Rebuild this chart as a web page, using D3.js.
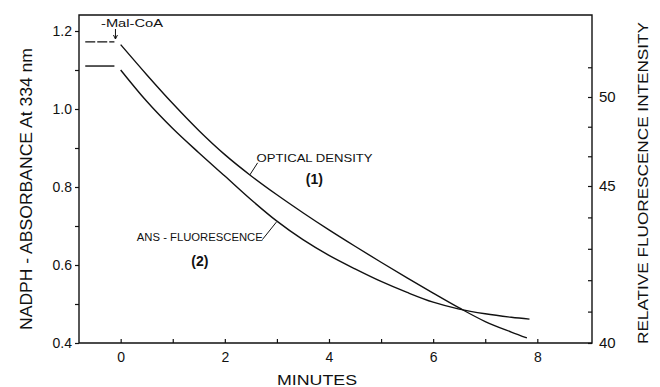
<!DOCTYPE html>
<html>
<head>
<meta charset="utf-8">
<script src="https://cdn.jsdelivr.net/npm/d3@7"></script>
<style>
  body { margin: 0; background: #fff; }
  svg { display: block; }
  text { font-family: "Liberation Sans", "DejaVu Sans", sans-serif; fill: #111; }
</style>
</head>
<body>
<svg id="chart" width="660" height="387"></svg>
<script>
// data
var minutes = [0, 0.5, 1, 1.5, 2, 2.5, 3, 3.5, 4, 4.5, 5, 5.5, 6, 6.5, 7, 7.5, 7.8];
var opticalDensity = [1.165, 1.088, 1.014, 0.945, 0.883, 0.829, 0.78, 0.734, 0.69, 0.648, 0.607, 0.567, 0.528, 0.49, 0.455, 0.428, 0.413];
var minutesFl = [0, 0.5, 1, 1.5, 2, 2.5, 3, 3.5, 4, 4.5, 5, 5.5, 6, 6.5, 7, 7.5, 7.85];
var fluorescence = [51.52, 49.76, 48.23, 46.87, 45.56, 44.57, 43.88, 43.29, 42.79, 42.36, 41.96, 41.61, 41.3, 41.08, 40.93, 40.82, 40.76];
// baselines before Mal-CoA addition
var preMinutes = [-0.68, -0.12];
var odBaseline = 1.172;
var flBaseline = 51.74;

var xTicks = [0, 2, 4, 6, 8];
var leftTicks = [0.4, 0.6, 0.8, 1.0, 1.2];
var leftTickLabels = ["0.4", "0.6", "0.8", "1.0", "1.2"];
var rightTicks = [40, 45, 50];
var rightMinor = [41, 42, 43, 44, 46.67, 48.33, 51.67];

var svg = d3.select("#chart");

var x = d3.scaleLinear().domain([-0.8, 9.05]).range([79, 592]);
var yL = d3.scaleLinear().domain([0.4, 1.2]).range([343, 31]);
// fluorescence scale is not evenly divided in the original
var yR = d3.scaleLinear().domain([40, 45, 50]).range([343, 186, 97]);
var frameTop = 15;

var ink = "#111";

//frame
svg.append("path")
  .attr("d", "M" + x.range()[0] + "," + frameTop + "H" + x.range()[1] + "V" + yL.range()[0] + "H" + x.range()[0] + "Z")
  .attr("fill", "none").attr("stroke", ink).attr("stroke-width", 1.4);

//x axis
var xAxis = d3.axisBottom(x).tickValues(d3.range(0, 9, 1)).tickSize(-4).tickFormat(function(d) {
  return xTicks.indexOf(d) >= 0 ? d : "";
}).tickPadding(9);
var gx = svg.append("g").attr("transform", "translate(0," + yL.range()[0] + ")").call(xAxis);
gx.select(".domain").remove();
gx.selectAll("line").attr("stroke", ink).attr("stroke-width", 1.2);
gx.selectAll("text").attr("font-size", 14).attr("fill", ink);

//left axis
var yAxisL = d3.axisLeft(yL).tickValues(d3.range(0.4, 1.21, 0.1)).tickSize(4).tickFormat(function(d) {
  var i = leftTicks.findIndex(function(t) { return Math.abs(t - d) < 1e-6; });
  return i >= 0 ? leftTickLabels[i] : "";
}).tickPadding(3);
var gl = svg.append("g").attr("transform", "translate(" + x.range()[0] + ",0)").call(yAxisL);
gl.select(".domain").remove();
gl.selectAll("line").attr("stroke", ink).attr("stroke-width", 1.2);
gl.selectAll("text").attr("font-size", 14).attr("fill", ink);

//right axis
var yAxisR = d3.axisRight(yR).tickValues(rightTicks.concat(rightMinor)).tickSize(-4).tickFormat(function(d) {
  return rightTicks.indexOf(d) >= 0 ? d : "";
}).tickPadding(7);
var gr = svg.append("g").attr("transform", "translate(" + x.range()[1] + ",0)").call(yAxisR);
gr.select(".domain").remove();
gr.selectAll("line").attr("stroke", ink).attr("stroke-width", 1.2);
gr.selectAll("text").attr("font-size", 15).attr("fill", ink);

//axis titles
svg.append("text").attr("x", 317).attr("y", 385).attr("text-anchor", "middle")
  .attr("font-size", 15).attr("textLength", 80).attr("lengthAdjust", "spacingAndGlyphs").text("MINUTES");
svg.append("text").attr("transform", "translate(32,189) rotate(-90)").attr("text-anchor", "middle")
  .attr("font-size", 16).attr("textLength", 282).attr("lengthAdjust", "spacingAndGlyphs")
  .text("NADPH - ABSORBANCE  At 334 nm");
svg.append("text").attr("transform", "translate(648,183) rotate(-90)").attr("text-anchor", "middle")
  .attr("font-size", 15).attr("textLength", 322).attr("lengthAdjust", "spacingAndGlyphs")
  .text("RELATIVE  FLUORESCENCE  INTENSITY");

//curves
var lineOD = d3.line().x(function(d, i) { return x(minutes[i]); }).y(function(d) { return yL(d); }).curve(d3.curveCatmullRom);
var lineFl = d3.line().x(function(d, i) { return x(minutesFl[i]); }).y(function(d) { return yR(d); }).curve(d3.curveCatmullRom);

svg.append("path").attr("d", lineOD(opticalDensity))
  .attr("fill", "none").attr("stroke", ink).attr("stroke-width", 1.4);
svg.append("path").attr("d", lineFl(fluorescence))
  .attr("fill", "none").attr("stroke", ink).attr("stroke-width", 1.4);

//baselines
svg.append("line").attr("x1", x(preMinutes[0])).attr("x2", x(preMinutes[1]))
  .attr("y1", yL(odBaseline)).attr("y2", yL(odBaseline))
  .attr("stroke", ink).attr("stroke-width", 1.4).attr("stroke-dasharray", "10,2");
svg.append("line").attr("x1", x(preMinutes[0])).attr("x2", x(preMinutes[1]))
  .attr("y1", yR(flBaseline)).attr("y2", yR(flBaseline))
  .attr("stroke", ink).attr("stroke-width", 1.4);

//Mal-CoA arrow
svg.append("text").attr("x", 101).attr("y", 27).attr("font-size", 10)
  .attr("textLength", 62).attr("lengthAdjust", "spacingAndGlyphs").text("-Mal-CoA");
svg.append("line").attr("x1", x(-0.1)).attr("x2", x(-0.1)).attr("y1", 29).attr("y2", 39)
  .attr("stroke", ink).attr("stroke-width", 1);
svg.append("path").attr("d", "M" + (x(-0.1) - 2) + ",35L" + x(-0.1) + ",39L" + (x(-0.1) + 2) + ",35")
  .attr("fill", "none").attr("stroke", ink).attr("stroke-width", 1);

//annotations
svg.append("text").attr("x", x(2.61)).attr("y", yL(0.864)).attr("font-size", 11)
  .attr("textLength", 116).attr("lengthAdjust", "spacingAndGlyphs").text("OPTICAL DENSITY");
svg.append("text").attr("x", x(3.72)).attr("y", yL(0.808)).attr("text-anchor", "middle")
  .attr("font-size", 14).attr("font-weight", "bold").text("(1)");
svg.append("line").attr("x1", x(2.48)).attr("y1", yL(0.831)).attr("x2", x(2.63)).attr("y2", yL(0.862))
  .attr("stroke", ink).attr("stroke-width", 1);

svg.append("text").attr("x", x(0.31)).attr("y", yL(0.662)).attr("font-size", 10)
  .attr("textLength", 126).attr("lengthAdjust", "spacingAndGlyphs").text("ANS - FLUORESCENCE");
svg.append("text").attr("x", x(1.52)).attr("y", yL(0.597)).attr("text-anchor", "middle")
  .attr("font-size", 14).attr("font-weight", "bold").text("(2)");
svg.append("line").attr("x1", x(2.72)).attr("y1", yL(0.665)).attr("x2", x(2.99)).attr("y2", yL(0.71))
  .attr("stroke", ink).attr("stroke-width", 1);
</script>
</body>
</html>
